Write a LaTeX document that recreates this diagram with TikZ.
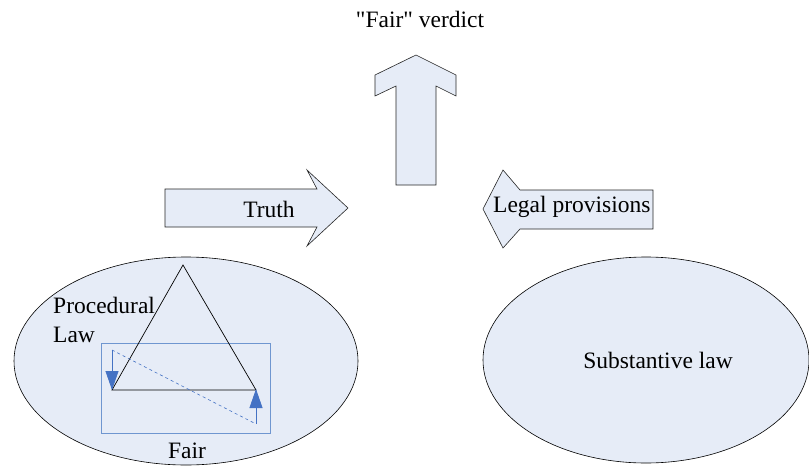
\documentclass[tikz,border=0pt]{standalone}
\usepackage{fontspec}
\setmainfont{Liberation Serif}
\newfontfamily\rawserif{Liberation Serif}[Ligatures=TeXOff]
\usetikzlibrary{arrows.meta}
\definecolor{shapefill}{RGB}{230,236,247}
\definecolor{rectblue}{RGB}{111,150,208}
\definecolor{arrblue}{RGB}{68,114,196}
\tikzset{
  blockarrow/.style={draw=black!85, fill=shapefill, line width=0.6pt, line join=miter},
  blob/.style={draw=black, fill=shapefill, line width=0.6pt},
  lbl/.style={font=\fontsize{23.5}{27}\selectfont, inner sep=0pt},
  flow/.style={draw=arrblue, line width=0.8pt, -{Triangle[length=19pt,width=13pt]}},
}
\begin{document}
\begin{tikzpicture}[x=1pt,y=-1pt]
\useasboundingbox (0,0) rectangle (809,466);
% ellipses
\draw[blob] (186,361) ellipse [x radius=172, y radius=104];
\draw[blob] (646,360) ellipse [x radius=163, y radius=103];
% block arrows
\draw[blockarrow] (165,189) -- (317,189) -- (307,170) -- (348,208) -- (307,246) -- (317,227) -- (165,227) -- cycle;
\draw[blockarrow] (653,190) -- (520,190) -- (503,170) -- (483,209) -- (503,248) -- (520,229) -- (653,229) -- cycle;
\draw[blockarrow] (396,185) -- (396,86) -- (375,96) -- (375,75) -- (416,55) -- (456,75) -- (456,96) -- (436,86) -- (436,185) -- cycle;
% labels
\node[lbl, anchor=base] (verdict) at (420,27) {\rawserif "Fair" verdict};
\node[lbl, anchor=base] (truth) at (269,217) {Truth};
\node[lbl, anchor=base west] (legal) at (493,212) {Legal provisions};
\node[lbl, anchor=base] (subst) at (658,368) {Substantive law};
\node[lbl, anchor=base west] (proc) at (53,313) {Procedural};
\node[lbl, anchor=base west] (law) at (53,342) {Law};
\node[lbl, anchor=base] (fair) at (187,458) {Fair};
% fair rectangle
\draw[rectblue, line width=0.8pt] (101,343) rectangle (270,433);
% triangle
\coordinate (apex) at (183,265);
\coordinate (bl) at (112,390);
\coordinate (br) at (256,390);
\draw[black, line width=0.7pt, line join=miter] (apex) -- (bl) -- (br) -- cycle;
% dashed diagonal and arrows
\coordinate (d1) at (112,350);
\coordinate (d2) at (256,424);
\draw[arrblue, line width=0.6pt, dashed] (d1) -- (d2);
\draw[flow] (d1) -- (bl);
\draw[flow] (d2) -- ([yshift=1pt]br);
\end{tikzpicture}
\end{document}
